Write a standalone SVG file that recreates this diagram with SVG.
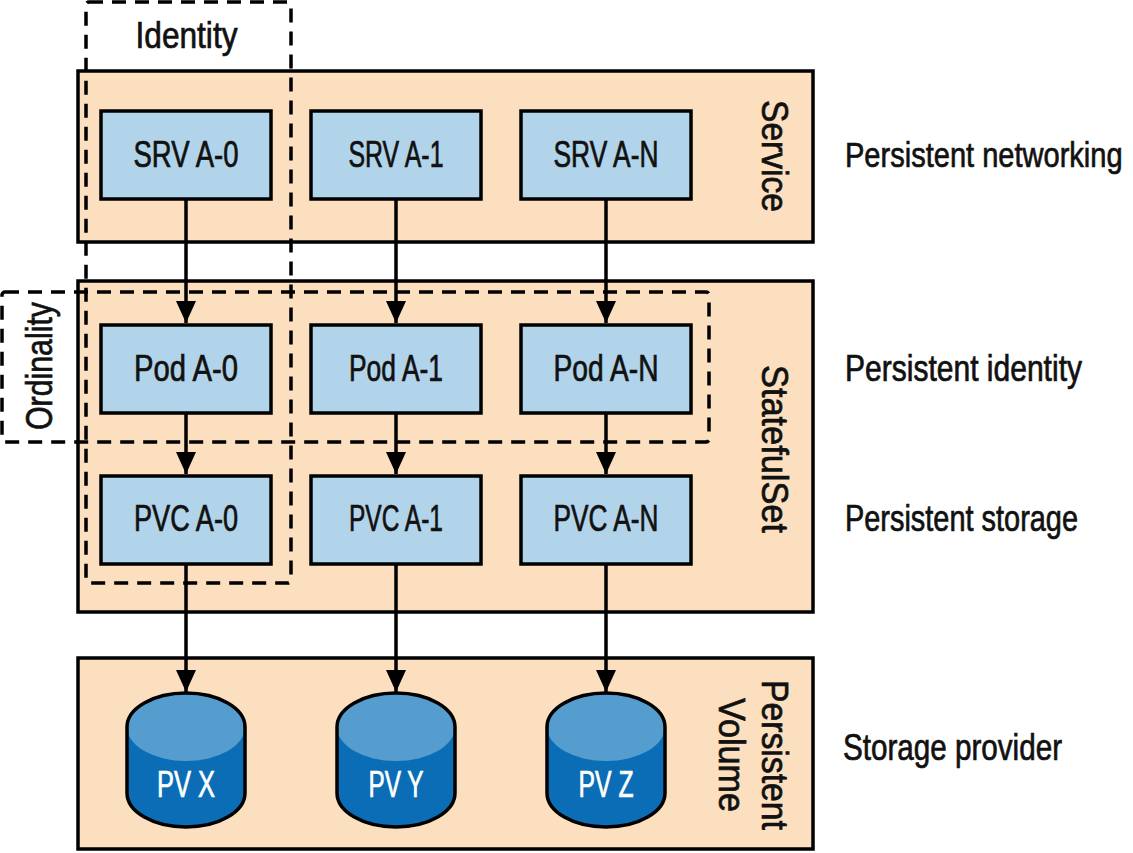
<svg xmlns="http://www.w3.org/2000/svg" width="1133" height="853" viewBox="0 0 1133 853">
<defs>
<style>
.cont{fill:#fcdfbf;stroke:#000;stroke-width:3.5}
.box{fill:#b2d4ea;stroke:#000;stroke-width:3.5}
.dash{fill:none;stroke:#000;stroke-width:3.5;stroke-dasharray:14 9}
.t{font-family:"Liberation Sans Narrow","Liberation Sans",Arial,sans-serif;font-size:36px;fill:#111;stroke:#111;stroke-width:0.7}
.w{fill:#fff;stroke:#fff}
.conn{stroke:#000;stroke-width:3.5;fill:none}
.cylbody{fill:#0a6db6}
.cyltop{fill:#559ccf}
.cylout{fill:none;stroke:#000;stroke-width:3.5}
</style>
<marker id="ah" viewBox="0 0 22 20" refX="22" refY="10" markerWidth="22" markerHeight="22" markerUnits="userSpaceOnUse" orient="auto">
<path d="M0,0 L22,10 L0,20 Z" fill="#000"/>
</marker>
</defs>
<rect width="1133" height="853" fill="#fff"/>

<g id="service">
<rect class="cont" x="78" y="71" width="735" height="171"/>
<text class="t" transform="translate(762,156) rotate(90)" text-anchor="middle" textLength="112" lengthAdjust="spacingAndGlyphs">Service</text>
</g>
<g id="statefulset">
<rect class="cont" x="78" y="281" width="735" height="331"/>
<text class="t" transform="translate(762,449) rotate(90)" text-anchor="middle" textLength="168" lengthAdjust="spacingAndGlyphs">StatefulSet</text>
</g>
<g id="persistent-volume">
<rect class="cont" x="78" y="658" width="735" height="191"/>
<text class="t" transform="translate(762,755) rotate(90)" text-anchor="middle" textLength="150" lengthAdjust="spacingAndGlyphs">Persistent</text>
<text class="t" transform="translate(719,755) rotate(90)" text-anchor="middle" textLength="114" lengthAdjust="spacingAndGlyphs">Volume</text>
</g>

<g id="identity">
<rect class="dash" x="86" y="2" width="205" height="581" rx="3"/>
<text class="t" x="186.5" y="48" text-anchor="middle" textLength="102" lengthAdjust="spacingAndGlyphs">Identity</text>
</g>
<g id="ordinality">
<rect class="dash" x="2" y="292" width="707" height="150" rx="3"/>
<text class="t" transform="translate(52,366) rotate(-90)" text-anchor="middle" textLength="128" lengthAdjust="spacingAndGlyphs">Ordinality</text>
</g>

<g id="srv-a-0"><rect class="box" x="101" y="111" width="170" height="88"/><text class="t" x="186" y="167" text-anchor="middle" textLength="105" lengthAdjust="spacingAndGlyphs">SRV A-0</text></g>
<g id="srv-a-1"><rect class="box" x="311" y="111" width="170" height="88"/><text class="t" x="396" y="167" text-anchor="middle" textLength="95" lengthAdjust="spacingAndGlyphs">SRV A-1</text></g>
<g id="srv-a-n"><rect class="box" x="521" y="111" width="170" height="88"/><text class="t" x="606" y="167" text-anchor="middle" textLength="105" lengthAdjust="spacingAndGlyphs">SRV A-N</text></g>

<g id="pod-a-0"><rect class="box" x="101" y="325" width="170" height="88"/><text class="t" x="186" y="381" text-anchor="middle" textLength="104" lengthAdjust="spacingAndGlyphs">Pod A-0</text></g>
<g id="pod-a-1"><rect class="box" x="311" y="325" width="170" height="88"/><text class="t" x="396" y="381" text-anchor="middle" textLength="94" lengthAdjust="spacingAndGlyphs">Pod A-1</text></g>
<g id="pod-a-n"><rect class="box" x="521" y="325" width="170" height="88"/><text class="t" x="606" y="381" text-anchor="middle" textLength="105" lengthAdjust="spacingAndGlyphs">Pod A-N</text></g>

<g id="pvc-a-0"><rect class="box" x="101" y="476" width="170" height="88"/><text class="t" x="186" y="531" text-anchor="middle" textLength="104" lengthAdjust="spacingAndGlyphs">PVC A-0</text></g>
<g id="pvc-a-1"><rect class="box" x="311" y="476" width="170" height="88"/><text class="t" x="396" y="531" text-anchor="middle" textLength="94" lengthAdjust="spacingAndGlyphs">PVC A-1</text></g>
<g id="pvc-a-n"><rect class="box" x="521" y="476" width="170" height="88"/><text class="t" x="606" y="531" text-anchor="middle" textLength="105" lengthAdjust="spacingAndGlyphs">PVC A-N</text></g>

<g id="pv-x">
<path class="cylbody" d="M127,727 L127,793 A59,34 0 0 0 245,793 L245,727 Z"/>
<ellipse class="cyltop" cx="186" cy="727" rx="59" ry="34"/>
<path class="cylout" d="M127,727 A59,34 0 0 1 245,727 L245,793 A59,34 0 0 1 127,793 Z"/>
<text class="t w" x="186" y="797" text-anchor="middle" textLength="58" lengthAdjust="spacingAndGlyphs">PV X</text>
</g>
<g id="pv-y">
<path class="cylbody" d="M337,727 L337,793 A59,34 0 0 0 455,793 L455,727 Z"/>
<ellipse class="cyltop" cx="396" cy="727" rx="59" ry="34"/>
<path class="cylout" d="M337,727 A59,34 0 0 1 455,727 L455,793 A59,34 0 0 1 337,793 Z"/>
<text class="t w" x="396" y="797" text-anchor="middle" textLength="55" lengthAdjust="spacingAndGlyphs">PV Y</text>
</g>
<g id="pv-z">
<path class="cylbody" d="M547,727 L547,793 A59,34 0 0 0 665,793 L665,727 Z"/>
<ellipse class="cyltop" cx="606" cy="727" rx="59" ry="34"/>
<path class="cylout" d="M547,727 A59,34 0 0 1 665,727 L665,793 A59,34 0 0 1 547,793 Z"/>
<text class="t w" x="606" y="797" text-anchor="middle" textLength="55" lengthAdjust="spacingAndGlyphs">PV Z</text>
</g>

<g id="connectors">
<line class="conn" x1="186" y1="199" x2="186" y2="323" marker-end="url(#ah)"/>
<line class="conn" x1="396" y1="199" x2="396" y2="323" marker-end="url(#ah)"/>
<line class="conn" x1="606" y1="199" x2="606" y2="323" marker-end="url(#ah)"/>
<line class="conn" x1="186" y1="413" x2="186" y2="474" marker-end="url(#ah)"/>
<line class="conn" x1="396" y1="413" x2="396" y2="474" marker-end="url(#ah)"/>
<line class="conn" x1="606" y1="413" x2="606" y2="474" marker-end="url(#ah)"/>
<line class="conn" x1="186" y1="564" x2="186" y2="692" marker-end="url(#ah)"/>
<line class="conn" x1="396" y1="564" x2="396" y2="692" marker-end="url(#ah)"/>
<line class="conn" x1="606" y1="564" x2="606" y2="692" marker-end="url(#ah)"/>
</g>

<g id="labels">
<text class="t" transform="matrix(0.8,0,0,1,845,167)" textLength="347" lengthAdjust="spacingAndGlyphs">Persistent networking</text>
<text class="t" x="845" y="381" textLength="237" lengthAdjust="spacingAndGlyphs">Persistent identity</text>
<text class="t" x="845" y="531" textLength="233" lengthAdjust="spacingAndGlyphs">Persistent storage</text>
<text class="t" x="843" y="760" textLength="219" lengthAdjust="spacingAndGlyphs">Storage provider</text>
</g>
</svg>
